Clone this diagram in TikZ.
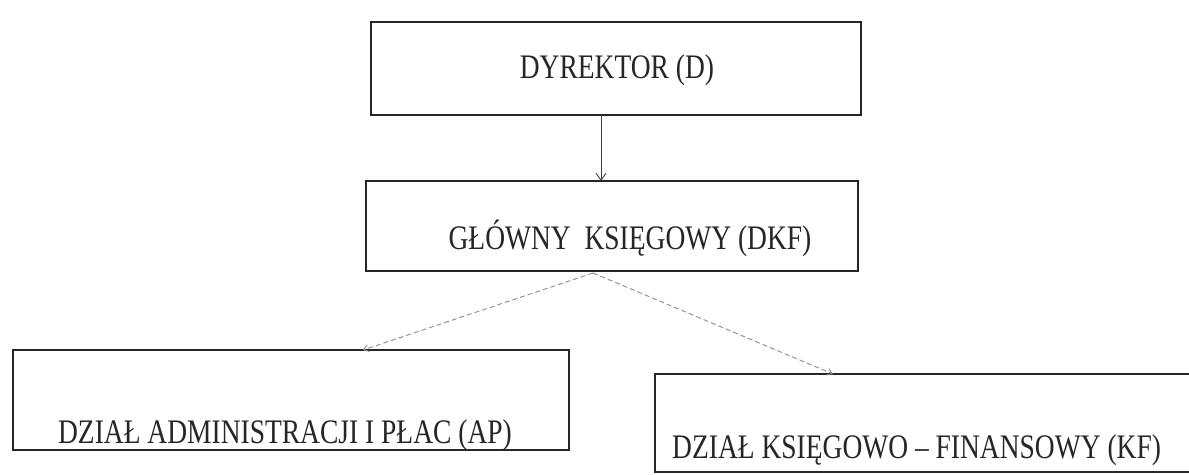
\documentclass[tikz,border=0pt]{standalone}
\usepackage{fontspec}
\setmainfont{Liberation Serif}
\usetikzlibrary{arrows.meta,calc}
\begin{document}
\begin{tikzpicture}[x=1pt,y=-1pt,
  orgbox/.style={draw=black!85,line width=1.4pt,inner sep=0pt,outer sep=0pt},
  lbl/.style={inner sep=0pt,font=\fontsize{27.5}{30}\selectfont,text=black!85},
  solidarr/.style={draw=black!75,line width=0.9pt,-{Straight Barb[length=7pt,width=10pt]}},
  dasharr/.style={draw=black!45,line width=0.9pt,dash pattern=on 5pt off 3pt,-{Straight Barb[length=5pt,width=7pt]}}]
\useasboundingbox (0,0) rectangle (1189,474);
\fill[white] (0,0) rectangle (1189,474);
\begin{scope}
\clip (0,0) rectangle (1189,474);
\node[orgbox,minimum width=490pt,minimum height=93pt] (D) at (616,68.5) {};
\node[orgbox,minimum width=492pt,minimum height=90pt] (G) at (612,226) {};
\node[orgbox,minimum width=556pt,minimum height=100pt] (AP) at (291,400) {};
\node[orgbox,minimum width=545pt,minimum height=98pt] (KF) at (927.5,423) {};
\node[lbl] (Dt) at (617,70) {\scalebox{1}[1.25]{DYREKTOR (D)}};
\node[lbl] (Gt) at (630,238) {\scalebox{1}[1.25]{GŁÓWNY\ \ KSIĘGOWY (DKF)}};
\node[lbl] (APt) at (285,435) {\scalebox{1}[1.25]{DZIAŁ ADMINISTRACJI I PŁAC (AP)}};
\node[lbl,anchor=west] (KFt) at (672,450) {\scalebox{1}[1.25]{DZIAŁ KSIĘGOWO – FINANSOWY (KF)}};
\coordinate (dx) at (601,0);
\coordinate (gs) at (593,273);
\coordinate (apx) at (363,0);
\coordinate (kfx) at (833,0);
\draw[solidarr] (D.south -| dx) -- (G.north -| dx);
\draw[dasharr] (gs) -- (AP.north -| apx);
\draw[dasharr] (gs) -- (KF.north -| kfx);
\end{scope}
\end{tikzpicture}
\end{document}
